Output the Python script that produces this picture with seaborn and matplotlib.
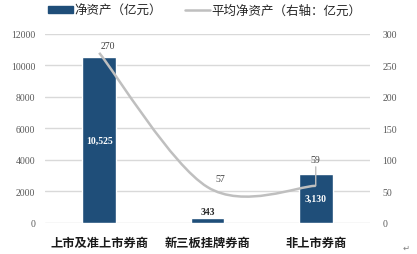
import matplotlib
matplotlib.use("Agg")
import matplotlib.pyplot as plt
import seaborn as sns
import pandas as pd
from matplotlib.path import Path
from matplotlib.patches import PathPatch, Patch
from matplotlib.lines import Line2D

categories = ["上市及准上市券商", "新三板挂牌券商", "非上市券商"]
net_assets = [10525, 343, 3130]
avg_net_assets = [270, 57, 59]
bar_labels = ["10,525", "343", "3,130"]
left_ticks = [0, 2000, 4000, 6000, 8000, 10000, 12000]
right_ticks = [0, 50, 100, 150, 200, 250, 300]

sns.set_theme(style="white")
plt.rcParams['font.family'] = ['Noto Sans CJK SC', 'DejaVu Sans']

BLUE = "#1F4E79"
GRAY = "#BFBFBF"
GRID = "#D9D9D9"
SERIF = ['Liberation Serif', 'DejaVu Serif']

fig = plt.figure(figsize=(4.17, 2.55), dpi=100)
ax = fig.add_axes([0.108, 0.1216, 0.779, 0.7414])

df = pd.DataFrame({"cat": categories, "val": net_assets})
sns.barplot(data=df, x="cat", y="val", color=BLUE, width=0.31, ax=ax,
            saturation=1, zorder=2)
ax.set_ylim(0, 12000)
ax.set_xlim(-0.5, 2.5)
ax.set_yticks(left_ticks)
ax.set_yticklabels([str(t) for t in left_ticks], fontfamily=SERIF, fontsize=7, color="#595959")
ax.grid(axis="y", color=GRID, linewidth=1, zorder=0)
ax.set_axisbelow(True)
for s in ax.spines.values():
    s.set_visible(False)
ax.tick_params(axis="y", length=0, pad=7)
ax.tick_params(axis="x", length=0, pad=9)
ax.set_xlabel("")
ax.set_ylabel("")
ax.set_xticks(range(len(categories)))
ax.set_xticklabels(categories, fontsize=8.8, fontweight="bold", color="#1a1a1a")

# bar labels
for i, (v, lab) in enumerate(zip(net_assets, bar_labels)):
    if v > 2000:
        ax.text(i, v / 2, lab, ha="center", va="center", color="white",
                fontsize=7, fontweight="bold", fontfamily=SERIF)
    else:
        ax.text(i, v + 120, lab, ha="center", va="bottom", color="#262626",
                fontsize=7, fontweight="bold", fontfamily=SERIF)

ax2 = ax.twinx()
ax2.set_ylim(0, 300)
ax2.set_yticks(right_ticks)
ax2.set_yticklabels([str(t) for t in right_ticks], fontfamily=SERIF, fontsize=7, color="#595959")
ax2.tick_params(axis="y", length=0, pad=9)
for s in ax2.spines.values():
    s.set_visible(False)
ax2.grid(False)

# smoothed line (Catmull-Rom style Bezier through data points)
xs = list(range(len(avg_net_assets)))
ys = avg_net_assets
verts = [(xs[0], ys[0])]
codes = [Path.MOVETO]
n = len(xs)
for i in range(n - 1):
    p0 = (xs[max(i - 1, 0)], ys[max(i - 1, 0)])
    p1 = (xs[i], ys[i])
    p2 = (xs[i + 1], ys[i + 1])
    p3 = (xs[min(i + 2, n - 1)], ys[min(i + 2, n - 1)])
    c1 = (p1[0] + (p2[0] - p0[0]) / 6, p1[1] + (p2[1] - p0[1]) / 6)
    c2 = (p2[0] - (p3[0] - p1[0]) / 6, p2[1] - (p3[1] - p1[1]) / 6)
    verts += [c1, c2, p2]
    codes += [Path.CURVE4] * 3
ax2.add_patch(PathPatch(Path(verts, codes), facecolor="none", edgecolor=GRAY,
                        linewidth=1.8, zorder=3))

# line value labels (offsets in points)
offsets = [(6, 2), (9, 3), (0, 16)]
for i, v in enumerate(avg_net_assets):
    dx, dy = offsets[i]
    if i == 2:
        ax2.annotate(str(v), xy=(i, v), xytext=(dx, dy), textcoords="offset points",
                     ha="center", va="bottom", color="#404040", fontsize=7,
                     fontfamily=SERIF,
                     arrowprops=dict(arrowstyle="-", color=GRAY, lw=1.0,
                                     shrinkA=0, shrinkB=0))
    else:
        ax2.annotate(str(v), xy=(i, v), xytext=(dx, dy), textcoords="offset points",
                     ha="center", va="bottom", color="#404040", fontsize=7,
                     fontfamily=SERIF)

handles = [Patch(facecolor=BLUE, edgecolor=BLUE),
           Line2D([0], [0], color=GRAY, linewidth=1.8)]
fig.legend(handles, ["净资产（亿元）", "平均净资产（右轴：亿元）"], loc="center left",
           bbox_to_anchor=(0.115, 0.955), ncol=2, frameon=False, fontsize=9,
           handlelength=2.0, handleheight=0.5, columnspacing=1.8, handletextpad=0.15,
           borderpad=0, borderaxespad=0)

fig.text(0.965, 0.015, "↵", fontsize=6, color="#7f7f7f", fontfamily="DejaVu Sans")

fig.savefig("out.png", dpi=100)
